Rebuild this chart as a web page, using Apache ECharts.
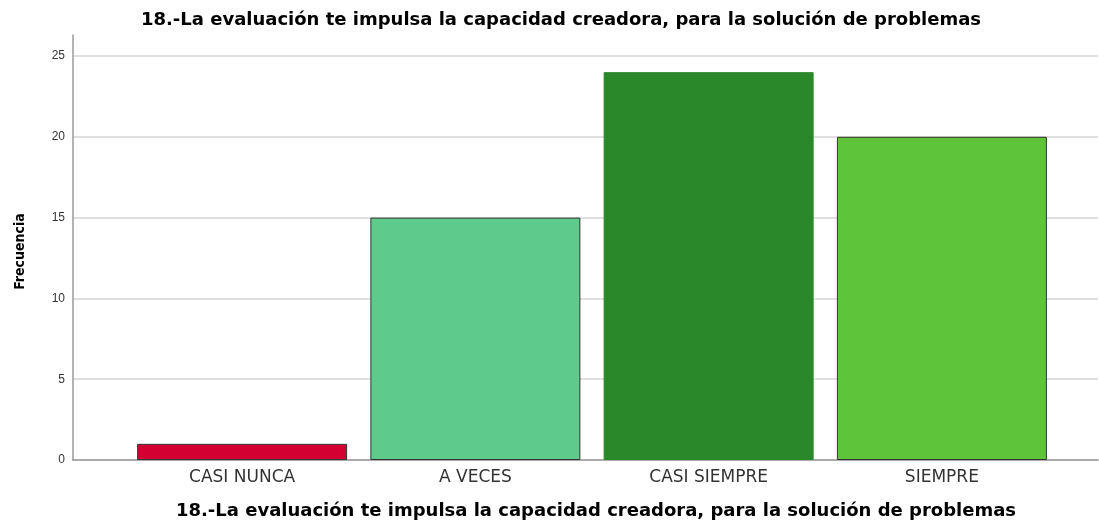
<!DOCTYPE html>
<html>
<head>
<meta charset="utf-8">
<script src="https://cdn.jsdelivr.net/npm/echarts@6/dist/echarts.min.js"></script>
<style>
  html, body { margin: 0; padding: 0; background: #fff; }
  #chart { width: 1099px; height: 521px; }
</style>
</head>
<body>
<div id="chart"></div>
<script>
const titleText = "18.-La evaluación te impulsa la capacidad creadora, para la solución de problemas";
const categories = ["CASI NUNCA", "A VECES", "CASI SIEMPRE", "SIEMPRE"];
const frecuencia = [1, 15, 24, 20];
const barColors = ["#d50032", "#5ecb8c", "#2a882a", "#5ec43a"];
const barBorders = ["#333333", "#333333", "#2a882a", "#333333"];

const chart = echarts.init(document.getElementById("chart"));

const yMax = 26.3;
const titleFont = { fontFamily: "DejaVu Sans", fontWeight: "bold", fontSize: 18, color: "#000" };

chart.setOption({
  animation: false,
  title: [
    { text: titleText, left: 556, top: 6, textAlign: "center", textStyle: titleFont },
    { text: titleText, left: 591, top: 497, textAlign: "center", textStyle: titleFont }
  ],
  grid: [
    { left: 73, right: 1, top: 35, bottom: 61 },
    { left: 125.5, right: 40.5, top: 35, bottom: 61 }
  ],
  xAxis: [
    {
      gridIndex: 0,
      type: "value",
      min: 0,
      max: 1,
      axisLine: { show: true, lineStyle: { color: "#9a9a9a", width: 1.5 } },
      axisTick: { show: false },
      axisLabel: { show: false },
      splitLine: { show: false }
    },
    {
      gridIndex: 1,
      type: "category",
      data: categories,
      axisLine: { show: false },
      axisTick: { show: false },
      axisLabel: { color: "#333", fontFamily: "DejaVu Sans", fontSize: 17, margin: 9 }
    }
  ],
  yAxis: [
    {
      gridIndex: 0,
      type: "value",
      min: 0,
      max: yMax,
      interval: 5,
      name: "Frecuencia",
      nameLocation: "middle",
      nameGap: 46,
      nameTextStyle: { fontFamily: "DejaVu Sans Condensed", fontWeight: "bold", fontSize: 14, color: "#000", padding: [0, 8, 0, 0] },
      axisLine: { show: true, lineStyle: { color: "#9a9a9a", width: 1.5 } },
      axisTick: { show: false },
      axisLabel: { color: "#333", fontFamily: "Liberation Sans", fontSize: 12, margin: 8, showMaxLabel: false },
      splitLine: { show: true, showMaxLine: false, lineStyle: { color: "#d4d4d4", width: 1.5 } }
    },
    {
      gridIndex: 1,
      type: "value",
      min: 0,
      max: yMax,
      show: false,
      splitLine: { show: false }
    }
  ],
  series: [
    {
      type: "bar",
      xAxisIndex: 1,
      yAxisIndex: 1,
      barWidth: 210,
      data: frecuencia.map((v, i) => ({
        value: v,
        itemStyle: { color: barColors[i], borderColor: barBorders[i], borderWidth: 1 }
      }))
    }
  ]
});
</script>
</body>
</html>
